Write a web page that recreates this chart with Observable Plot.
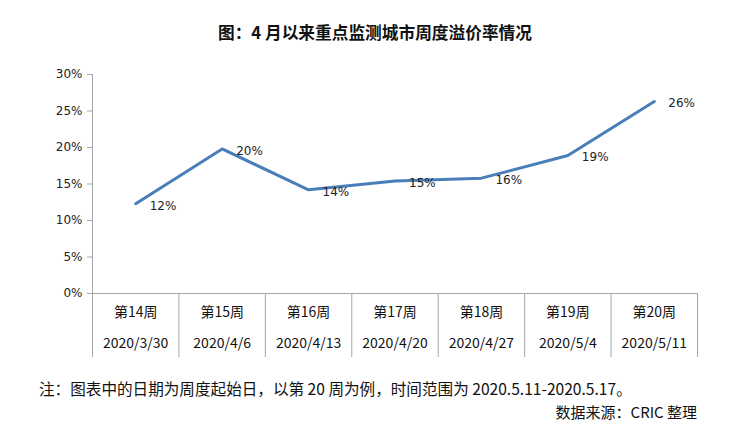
<!DOCTYPE html>
<html>
<head>
<meta charset="utf-8">
<script src="https://cdn.jsdelivr.net/npm/d3@7"></script>
<script src="https://cdn.jsdelivr.net/npm/@observablehq/plot@0.6"></script>
<style>
  html, body { margin: 0; padding: 0; background: #fff; }
  #wrap { position: relative; width: 750px; height: 440px; font-family: "Noto Sans CJK SC", "Noto Sans", sans-serif; color: #111; }
  #title { position: absolute; left: 0; width: 750px; top: 21px; text-align: center; font-size: 16.7px; font-weight: bold; line-height: 22px; }
  #chart { position: absolute; left: 0; top: 56px; }
  #note { position: absolute; left: 39px; top: 377px; font-size: 15.6px; line-height: 22px; white-space: nowrap; }
  #source { position: absolute; right: 53px; top: 401px; font-size: 15px; line-height: 22px; white-space: nowrap; }
</style>
</head>
<body>
<div id="wrap">
  <div id="title">图：4 月以来重点监测城市周度溢价率情况</div>
  <div id="chart"></div>
  <div id="note">注：图表中的日期为周度起始日，以第 20 周为例，时间范围为 2020.5.11-2020.5.17。</div>
  <div id="source">数据来源：CRIC 整理</div>
</div>
<script>
const weeks = ["第14周", "第15周", "第16周", "第17周", "第18周", "第19周", "第20周"];
const dates = ["2020/3/30", "2020/4/6", "2020/4/13", "2020/4/20", "2020/4/27", "2020/5/4", "2020/5/11"];
const values = [0.123, 0.198, 0.142, 0.154, 0.158, 0.189, 0.263];
const yTicks = [0, 0.05, 0.10, 0.15, 0.20, 0.25, 0.30];

const idx = weeks.map((d, i) => i);
const boundaries = d3.range(weeks.length + 1).map(i => i - 0.5);
const axisGray = "#a6a6a6";
const pct = d3.format(".0%");

const chart = Plot.plot({
  width: 750,
  height: 310,
  marginTop: 18,
  marginBottom: 73,
  marginLeft: 92,
  marginRight: 53,
  x: { domain: [-0.5, weeks.length - 0.5], axis: null },
  y: { domain: [0, 0.30], axis: null },
  style: { fontFamily: "\"Noto Sans CJK SC\", sans-serif", background: "white" },
  marks: [
    Plot.axisY({
      ticks: yTicks, tickFormat: pct, tickSize: 5, tickPadding: 5,
      stroke: axisGray, fill: "#222", fontSize: 12, fontFamily: "DejaVu Sans"
    }),
    // y axis line + first table border
    Plot.ruleX([boundaries[0]], { stroke: axisGray, insetBottom: -64 }),
    // table separators below axis
    Plot.ruleX(boundaries.slice(1), { x: d => d, y1: 0, stroke: axisGray, insetBottom: -64 }),
    Plot.ruleY([0], { stroke: axisGray }),
    Plot.line(idx, { x: i => i, y: i => values[i], stroke: "#4a7ebb", strokeWidth: 3, strokeLinejoin: "miter" }),
    Plot.text(idx, {
      x: i => i, y: i => values[i], text: i => pct(values[i]),
      textAnchor: "start", dx: 14, dy: 2, fontSize: 12, fontFamily: "DejaVu Sans", fill: "#222"
    }),
    Plot.text(idx, { x: i => i, y: () => 0, text: i => weeks[i], dy: 19, fontSize: 14, fill: "#111" }),
    Plot.text(idx, { x: i => i, y: () => 0, text: i => dates[i], dy: 50, fontSize: 14, fill: "#111" })
  ]
});
document.getElementById("chart").appendChild(chart);
</script>
</body>
</html>
